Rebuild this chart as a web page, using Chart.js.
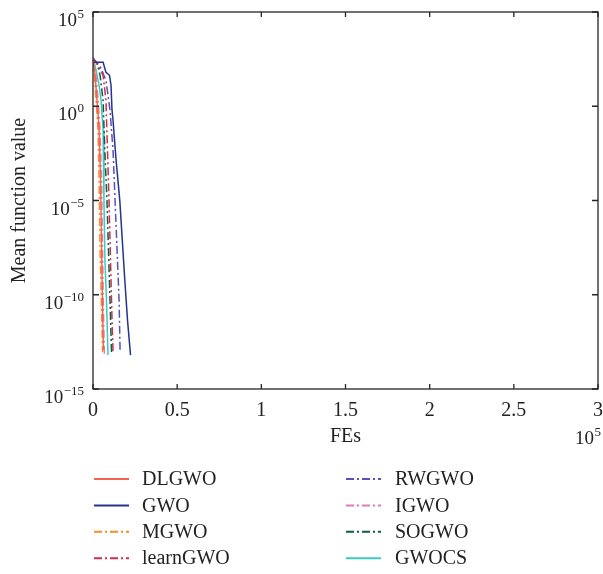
<!DOCTYPE html>
<html>
<head>
<meta charset="utf-8">
<script src="https://cdn.jsdelivr.net/npm/chart.js@4"></script>
<style>
  html, body { margin: 0; padding: 0; background: #fff; }
</style>
</head>
<body>
<canvas id="myChart" width="603" height="574"></canvas>
<script>
// values: FEs and mean function value per algorithm
let dlgwoX = [0, 1200, 2400, 3600, 4500, 5100, 5700, 6200]
let dlgwoY = [355, 44, 2.1, 0.054, 1.2e-4, 2.3e-8, 1.5e-11, 1.15e-13]
let gwoX = [0, 600, 6000, 7700, 9800, 10700, 11300, 11900, 13700, 15900, 18900, 20500, 22300]
let gwoY = [355, 214, 214, 63, 44, 13, 0.62, 0.18, 1.4e-3, 1.05e-5, 5.9e-10, 4.5e-12, 6.3e-14]
let mgwoX = [0, 900, 1800, 3000, 3600, 4200, 5100, 5700]
let mgwoY = [355, 44, 2.1, 0.054, 1.2e-4, 2.3e-8, 1.5e-11, 9e-14]
let learnX = [0, 3000, 6000, 7700, 8600, 9500, 10400, 11300, 11900]
let learnY = [355, 148, 44, 2.1, 4.7e-3, 1.05e-5, 6.8e-9, 4.5e-12, 9e-14]
let rwgwoX = [0, 4200, 7700, 10100, 11900, 13100, 14300, 15500, 16100]
let rwgwoY = [355, 132, 24, 0.62, 4.7e-3, 1.05e-5, 2.3e-8, 5.1e-11, 9e-14]
let igwoX = [0, 1800, 3000, 4200, 5100, 5700, 6200, 6800]
let igwoY = [355, 44, 2.1, 0.054, 1.2e-4, 2.3e-8, 1.5e-11, 6.3e-14]
let sogwoX = [0, 2400, 4200, 6000, 7000, 8300, 9200, 10100, 11000]
let sogwoY = [355, 190, 44, 2.1, 4.7e-3, 1.05e-5, 2.3e-8, 5.1e-11, 9e-14]
let gwocsX = [0, 1800, 3600, 4800, 6000, 6500, 7100, 8000, 8900]
let gwocsY = [400, 81, 13, 2.1, 0.054, 1.05e-5, 6.8e-9, 5.1e-11, 6.3e-14]

let xTicks = [0, 50000, 100000, 150000, 200000, 250000, 300000]
let yTicks = [1e-15, 1e-10, 1e-5, 1, 1e5]

const FONT = 'Liberation Serif'
const DASHDOT = [8, 3, 2, 3]

function pts(xs, ys) {
    return xs.map((v, i) => ({ x: v, y: ys[i] }))
}
function line(label, xs, ys, color, dash) {
    return {
        label: label,
        data: pts(xs, ys),
        borderColor: color,
        backgroundColor: color,
        borderWidth: 1.5,
        borderDash: dash || [],
        pointRadius: 0,
        fill: false,
        tension: 0
    }
}

function sup(n) {
    return String(n).replace('-', '\u2212')
}

// box with inward ticks, power-of-ten labels, x multiplier, two-column legend
const decor = {
    id: 'decor',
    afterDraw(chart) {
        const { ctx, chartArea: a, scales: { x, y } } = chart
        ctx.save()
        ctx.strokeStyle = '#262626'
        ctx.lineWidth = 1.3
        ctx.strokeRect(a.left, a.top, a.right - a.left, a.bottom - a.top)
        ctx.beginPath()
        x.ticks.forEach(t => {
            let px = x.getPixelForValue(t.value)
            ctx.moveTo(px, a.bottom); ctx.lineTo(px, a.bottom - 5)
            ctx.moveTo(px, a.top); ctx.lineTo(px, a.top + 5)
        })
        y.ticks.forEach(t => {
            let py = y.getPixelForValue(t.value)
            ctx.moveTo(a.left, py); ctx.lineTo(a.left + 6, py)
            ctx.moveTo(a.right, py); ctx.lineTo(a.right - 6, py)
        })
        ctx.stroke()

        ctx.fillStyle = '#222'
        ctx.textBaseline = 'alphabetic'
        ctx.textAlign = 'right'
        y.ticks.forEach(t => {
            let py = y.getPixelForValue(t.value)
            let e = sup(Math.round(Math.log10(t.value)))
            ctx.font = '13px "' + FONT + '"'
            let ew = ctx.measureText(e).width
            ctx.fillText(e, 84, py + 6)
            ctx.font = '19px "' + FONT + '"'
            ctx.fillText('10', 84 - ew - 0.5, py + 14)
        })

        // x multiplier 10^5
        ctx.font = '13px "' + FONT + '"'
        ctx.fillText('5', 601, 436)
        ctx.font = '19px "' + FONT + '"'
        ctx.fillText('10', 594, 444)

        // legend
        const cols = [{ lx: 94, tx: 142 }, { lx: 346, tx: 395 }]
        ctx.textAlign = 'left'
        ctx.textBaseline = 'middle'
        ctx.font = '20px "' + FONT + '"'
        chart.data.datasets.forEach((ds, i) => {
            let c = cols[Math.floor(i / 4)]
            let ly = 479 + (i % 4) * 26.4
            ctx.strokeStyle = ds.borderColor
            ctx.lineWidth = 2
            ctx.setLineDash(ds.borderDash)
            ctx.beginPath()
            ctx.moveTo(c.lx, ly); ctx.lineTo(c.lx + 35, ly)
            ctx.stroke()
            ctx.setLineDash([])
            ctx.fillStyle = '#222'
            ctx.fillText(ds.label, c.tx, ly + 1)
        })
        ctx.restore()
    }
}

let myChart = document.getElementById('myChart').getContext('2d')

let convChart = new Chart(myChart, {
    type: 'line',
    data: {
        datasets: [
            line('DLGWO', dlgwoX, dlgwoY, '#F0654F'),
            line('GWO', gwoX, gwoY, '#23358F'),
            line('MGWO', mgwoX, mgwoY, '#FF8A1F', DASHDOT),
            line('learnGWO', learnX, learnY, '#CC2F4F', DASHDOT),
            line('RWGWO', rwgwoX, rwgwoY, '#5B4FBA', DASHDOT),
            line('IGWO', igwoX, igwoY, '#E07AB8', DASHDOT),
            line('SOGWO', sogwoX, sogwoY, '#0B5E40', DASHDOT),
            line('GWOCS', gwocsX, gwocsY, '#3CC9BE')
        ]
    },
    options: {
        responsive: false,
        animation: false,
        layout: { padding: { top: 12, right: 5, bottom: 0, left: 0 } },
        plugins: { legend: { display: false }, tooltip: { enabled: false } },
        scales: {
            x: {
                type: 'linear',
                min: 0,
                max: 300000,
                afterBuildTicks: s => { s.ticks = xTicks.map(v => ({ value: v })) },
                afterFit: s => { s.height = 185; s.paddingLeft = 0; s.paddingRight = 0 },
                grid: { display: false, drawTicks: false },
                border: { display: false },
                ticks: {
                    color: '#222',
                    font: { family: FONT, size: 20 },
                    padding: 10,
                    maxRotation: 0,
                    callback: v => String(v / 100000)
                },
                title: {
                    display: true,
                    text: 'FEs',
                    color: '#222',
                    font: { family: FONT, size: 20 },
                    padding: { top: 0, bottom: 125 }
                }
            },
            y: {
                type: 'logarithmic',
                min: 1e-15,
                max: 1e5,
                afterBuildTicks: s => { s.ticks = yTicks.map(v => ({ value: v })) },
                afterFit: s => { s.width = 93; s.paddingTop = 0; s.paddingBottom = 0 },
                grid: { display: false, drawTicks: false },
                border: { display: false },
                ticks: { display: false },
                title: {
                    display: true,
                    text: 'Mean function value',
                    color: '#222',
                    font: { family: FONT, size: 20 },
                    padding: { top: 8, bottom: 0 }
                }
            }
        }
    },
    plugins: [decor]
})
</script>
</body>
</html>
